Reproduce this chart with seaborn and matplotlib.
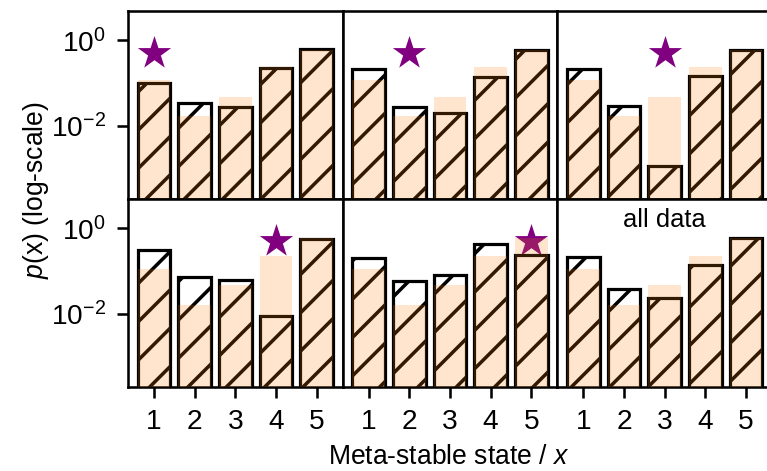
import numpy as np
import pandas as pd
import matplotlib
matplotlib.use("Agg")
import matplotlib.pyplot as plt
from matplotlib.ticker import NullLocator, FixedLocator
import seaborn as sns

# ---- data ----
states = [1, 2, 3, 4, 5]
all_data = [0.115, 0.0165, 0.047, 0.23, 0.60]          # light orange background bars
cond_state1 = [0.098, 0.034, 0.028, 0.22, 0.61]
cond_state2 = [0.21, 0.028, 0.0197, 0.14, 0.585]
cond_state3 = [0.215, 0.0297, 0.00113, 0.146, 0.585]
cond_state4 = [0.31, 0.0716, 0.062, 0.0087, 0.57]
cond_state5 = [0.208, 0.059, 0.080, 0.44, 0.24]
cond_all = [0.216, 0.039, 0.0234, 0.137, 0.59]
star_states = [1, 2, 3, 4, 5, None]
star_level = 0.5
panel_note = "all data"

sns.set_theme(style="ticks")
plt.rcParams["font.family"] = ["Liberation Sans", "DejaVu Sans"]
plt.rcParams["mathtext.fontset"] = "custom"
plt.rcParams["mathtext.rm"] = "Liberation Sans"
plt.rcParams["mathtext.it"] = "Liberation Sans:italic"
plt.rcParams["axes.linewidth"] = 0.8
plt.rcParams["hatch.linewidth"] = 1.1
plt.rcParams["text.color"] = "black"

DPI = 230
fig, axes = plt.subplots(2, 3, figsize=(767 / DPI, 471 / DPI), dpi=DPI,
                         sharex=True, sharey=True)
fig.subplots_adjust(left=128 / 767, right=772 / 767, top=1 - 10.7 / 471,
                    bottom=1 - 387 / 471, wspace=0, hspace=0)

conds = [cond_state1, cond_state2, cond_state3, cond_state4, cond_state5, cond_all]
orange = "#ff7f0e"

for i, ax in enumerate(axes.flat):
    ax.set_yscale("log")
    df_c = pd.DataFrame({"state": states, "p": conds[i]})
    df_a = pd.DataFrame({"state": states, "p": all_data})
    if star_states[i] is not None:
        sns.scatterplot(x=[star_states[i]], y=[star_level], marker="*", s=120,
                        color="purple", linewidth=0, ax=ax, zorder=2)
    sns.barplot(data=df_c, x="state", y="p", native_scale=True, fill=False,
                color="black", hatch="//", linewidth=1.0, saturation=1,
                errorbar=None, ax=ax, zorder=3)
    sns.barplot(data=df_a, x="state", y="p", native_scale=True, color=orange,
                alpha=0.2, linewidth=0, saturation=1, errorbar=None, ax=ax,
                zorder=4)
    ax.set_xlim(0.36, 5.64)
    ax.set_ylim(10 ** -3.71, 10 ** 0.69)
    ax.yaxis.set_major_locator(FixedLocator([1e-2, 1e0]))
    ax.yaxis.set_minor_locator(NullLocator())
    ax.set_xticks(states)
    ax.set_xticklabels([str(s) for s in states])
    ax.set_xlabel("")
    ax.set_ylabel("")
    for sp in ax.spines.values():
        sp.set_visible(True)
        sp.set_color("black")
        sp.set_linewidth(0.8)
    ax.tick_params(labelsize=8.8, color="black", labelcolor="black",
                   width=0.8, length=3.5)
    row, col = divmod(i, 3)
    if col > 0:
        ax.tick_params(left=False, labelleft=False)
    if row == 0:
        ax.tick_params(bottom=False, labelbottom=False)

axes[1, 2].text(0.5, 0.853, panel_note, transform=axes[1, 2].transAxes,
                ha="center", va="baseline", fontsize=8, color="black")

fig.text(36 / 767, 1 - 190 / 471, r"$p$(x) (log-scale)", rotation=90,
         ha="center", va="center", fontsize=8.3, color="black")
fig.text(449 / 767, 1 - 464 / 471, r"Meta-stable state / $x$", ha="center",
         va="baseline", fontsize=8.3, color="black")

fig.savefig("out.png", dpi=DPI)
